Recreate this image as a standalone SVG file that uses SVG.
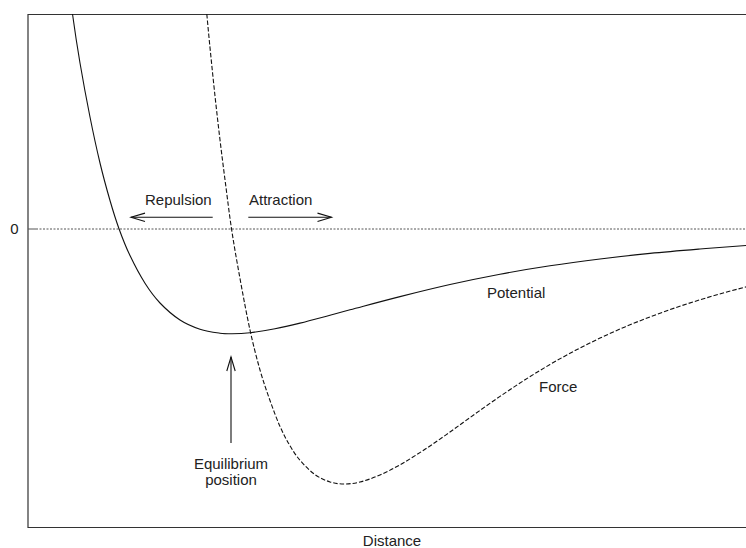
<svg xmlns="http://www.w3.org/2000/svg" width="746" height="548" viewBox="0 0 746 548">
<defs>
<style>
text{font-family:"Liberation Sans",Arial,Helvetica,sans-serif;font-size:15px;fill:#222}
.frame{fill:none;stroke:#333;stroke-width:1.2}
.zero{fill:none;stroke:#555;stroke-width:1;stroke-dasharray:2 1.5}
.pot{fill:none;stroke:#111;stroke-width:1.1;stroke-linejoin:round}
.force{fill:none;stroke:#111;stroke-width:1.1;stroke-dasharray:4.5 2;stroke-linejoin:round}
.arrow{fill:none;stroke:#111;stroke-width:1.1}
</style>
<marker id="ah" markerUnits="userSpaceOnUse" markerWidth="20" markerHeight="12" viewBox="-15 -6 17 12" refX="0" refY="0" orient="auto">
<path d="M-14,-4.2 L0,0 L-14,4.2" fill="none" stroke="#111" stroke-width="1.1"/>
</marker>
</defs>
<rect width="746" height="548" fill="#fff"/>
<g id="axes">
<path class="frame" d="M746,14.5 H28 V527.5 H746"/>
<path d="M28,229 H36" stroke="#555" stroke-width="1"/>
<path class="zero" d="M36,229 H746"/>
<text x="14.5" y="233.5" text-anchor="middle">0</text>
<text x="392" y="546" text-anchor="middle">Distance</text>
</g>
<g id="potential">
<path class="pot" d="M72.5,14 C75,32.25 77.5,48.3 80,63 C83.33,82.62 86.67,100.33 90,117 C93.33,133.67 96.67,149.08 100,163 C103.33,176.92 106.67,188.97 110,200.5 C113,210.87 116,220.43 119,228.7 C122.67,238.8 126.33,247.9 130,255.6 C135,266.1 140,275.4 145,283.3 C150,291.2 155,297.76 160,303 C166.67,309.99 173.33,315.63 180,320 C186.67,324.37 193.33,327 200,329.2 C206.67,331.4 213.33,332.26 220,333.2 C224,333.7 228,333.7 232,333.7 C238,333.7 244,333.4 250,332.7 C258.33,331.73 266.67,330.3 275,328.7 C283.33,327.1 291.67,325.14 300,323.1 C310,320.65 320,317.86 330,315.2 C336.67,313.43 343.33,311.57 350,309.8 C366.67,305.37 383.33,300.82 400,296.6 C416.67,292.38 433.33,288.23 450,284.5 C466.67,280.77 483.33,277.32 500,274.2 C516.67,271.08 533.33,268.33 550,265.8 C566.67,263.27 583.33,261.07 600,259 C616.67,256.93 633.33,255.07 650,253.4 C666.67,251.73 683.33,250.37 700,249 C715.33,247.74 730.67,246.57 746,245.5"/>
<text x="487" y="297.5">Potential</text>
</g>
<g id="force">
<path class="force" d="M206.8,14 C207.87,25.3 208.93,36.93 210,47.6 C211.67,64.27 213.33,80.62 215,96 C216.67,111.38 218.33,125.95 220,139.9 C221.67,153.85 223.33,166.83 225,179.7 C227.17,196.42 229.33,214.43 231.5,228.7 C234.33,247.36 237.17,262.99 240,278.5 C243.33,296.75 246.67,314.75 250,330 C253.33,345.25 256.67,358.25 260,370 C263.33,381.75 266.67,391.1 270,400.5 C273.33,409.9 276.67,418.85 280,426.4 C283.33,433.95 286.67,440.15 290,445.8 C293.33,451.45 296.67,456.46 300,460.3 C305,466.06 310,471 315,474.6 C320,478.2 325,480.28 330,481.9 C334.67,483.41 339.33,484 344,484 C349.33,484 354.67,483.33 360,482 C366.67,480.33 373.33,477.87 380,475 C386.67,472.13 393.33,468.61 400,464.8 C408.33,460.04 416.67,454.77 425,449.3 C433.33,443.83 441.67,437.88 450,432 C458.33,426.12 466.67,419.93 475,414 C483.33,408.07 491.67,402.1 500,396.4 C508.33,390.7 516.67,385.12 525,379.8 C533.33,374.48 541.67,369.37 550,364.5 C558.33,359.63 566.67,355 575,350.6 C583.33,346.2 591.67,342.05 600,338.1 C608.33,334.15 616.67,330.43 625,326.9 C633.33,323.37 641.67,320.07 650,316.9 C658.33,313.73 666.67,310.75 675,307.9 C683.33,305.05 691.67,302.37 700,299.8 C708.33,297.23 716.67,294.83 725,292.5 C732,290.54 739,288.72 746,286.9"/>
<text x="539" y="392">Force</text>
</g>
<g id="repulsion">
<text x="145" y="204.5">Repulsion</text>
</g>
<g id="attraction">
<text x="249" y="204.5">Attraction</text>
</g>
<g id="equilibrium">
<text x="231" y="469" text-anchor="middle">Equilibrium</text>
<text x="231" y="485" text-anchor="middle">position</text>
</g>
<g id="connectors">
<line class="arrow" x1="212.7" y1="217.3" x2="131" y2="217.3" marker-end="url(#ah)"/>
<line class="arrow" x1="248.3" y1="217.3" x2="331.5" y2="217.3" marker-end="url(#ah)"/>
<line class="arrow" x1="231" y1="443" x2="231" y2="357" marker-end="url(#ah)"/>
</g>
</svg>
